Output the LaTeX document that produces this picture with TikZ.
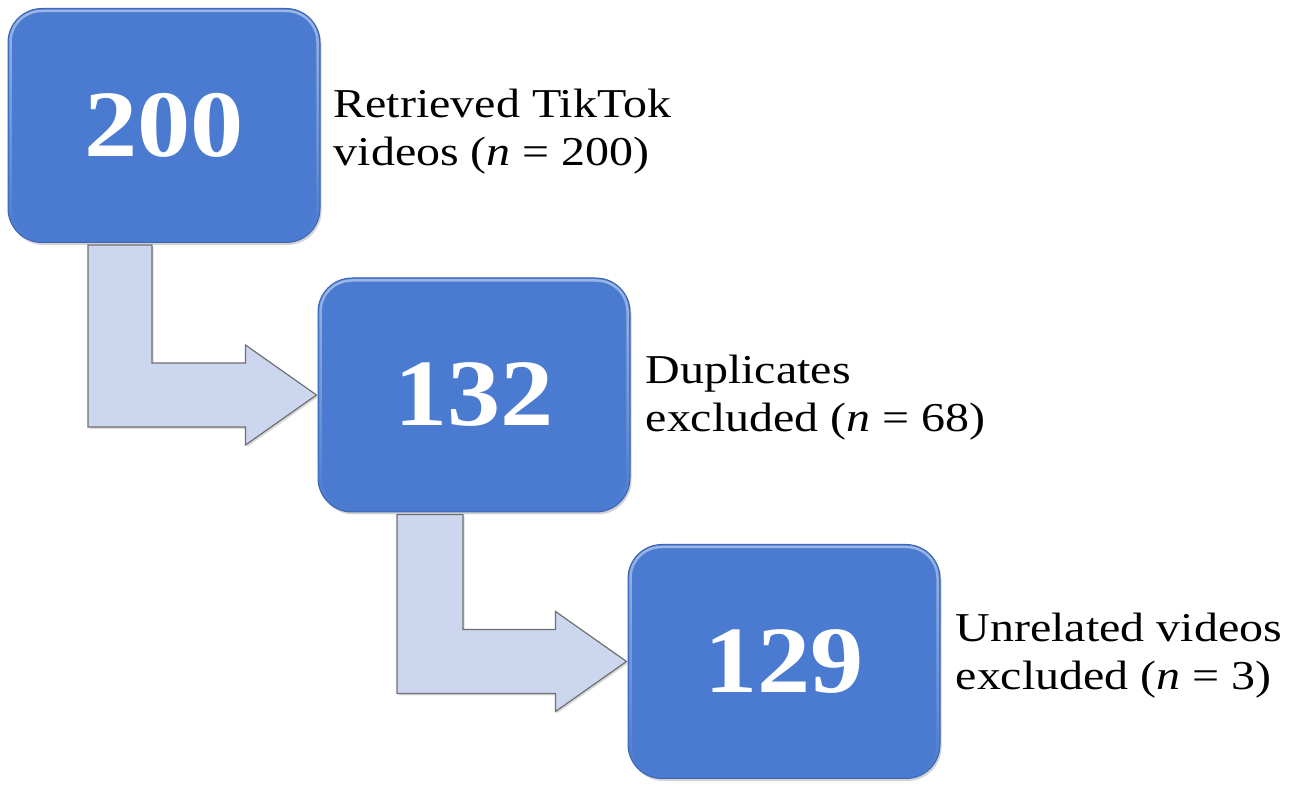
\documentclass[tikz,border=0pt]{standalone}
\usepackage{fontspec}
\setmainfont[FakeStretch=1.17]{Liberation Serif}
\newfontfamily\numfont[FakeStretch=1.12]{Liberation Serif}
\usetikzlibrary{calc,shadows,fadings}
\definecolor{boxblue}{HTML}{4A7BD0}
\definecolor{boxedge}{HTML}{3B66B5}
\definecolor{arrowfill}{HTML}{CCD6EF}
\definecolor{arrowedge}{HTML}{707070}
\tikzset{
  numbox/.style={rounded corners=34pt, minimum width=312pt, minimum height=234pt,
    fill=boxblue, draw=boxedge, line width=1pt, text=white, inner sep=0pt,
    font=\numfont\bfseries\fontsize{95}{100}\selectfont,
    drop shadow={opacity=0.35, shadow xshift=1.5pt, shadow yshift=-2.5pt}},
  bevel/.style={draw=white, line width=2.5pt, opacity=0.45, path fading=south, rounded corners=31pt},
  lbl/.style={anchor=west, align=left, inner sep=0pt, font=\fontsize{41}{48}\selectfont},
  bentarrow/.style={fill=arrowfill, draw=arrowedge, line width=1.2pt, line join=miter,
    drop shadow={opacity=0.3, shadow xshift=1.5pt, shadow yshift=-2pt}}
}
\begin{document}
\begin{tikzpicture}[x=1pt,y=1pt]
\useasboundingbox (0,0) rectangle (1293,787);
\node[numbox] (b1) at (164,661.5) {200};
\node[numbox] (b2) at (474,392) {132};
\node[numbox] (b3) at (784,125.5) {129};
\foreach \b in {b1,b2,b3}
  \draw[bevel] ($(\b.south west)+(3,3)$) rectangle ($(\b.north east)+(-3,-3)$);
\node[lbl] (l1) at ($(b1.east)+(13,-6)$) {Retrieved TikTok\\videos (\textit{n} = 200)};
\node[lbl] (l2) at ($(b2.east)+(15,-3)$) {Duplicates\\excluded (\textit{n} = 68)};
\node[lbl] (l3) at ($(b3.east)+(15,6)$) {Unrelated videos\\excluded (\textit{n} = 3)};
\draw[bentarrow] let \p1=(b1.south), \p2=(b2.west) in
  (\x1-76,\y1-2) -- (\x1-12,\y1-2) -- (\x1-12,\y2+32) -- (\x2-72,\y2+32) --
  (\x2-72,\y2+50) -- (\x2-1,\y2) -- (\x2-72,\y2-50) -- (\x2-72,\y2-32) --
  (\x1-76,\y2-32) -- cycle;
\draw[bentarrow] let \p1=(b2.south), \p2=(b3.west) in
  (\x1-77,\y1-2) -- (\x1-11,\y1-2) -- (\x1-11,\y2+32) -- (\x2-72,\y2+32) --
  (\x2-72,\y2+50) -- (\x2-1,\y2) -- (\x2-72,\y2-50) -- (\x2-72,\y2-32) --
  (\x1-77,\y2-32) -- cycle;
\end{tikzpicture}
\end{document}
